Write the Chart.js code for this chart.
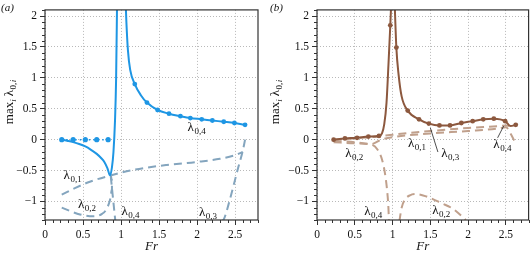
<!DOCTYPE html>
<html>
<head>
<meta charset="utf-8">
<script src="https://cdn.jsdelivr.net/npm/chart.js@4"></script>
<style>
html,body{margin:0;padding:0;background:#fff;}
#wrap{position:relative;width:531px;height:254px;overflow:hidden;}
.pan{position:absolute;top:0;height:254px;}
#pa{left:0;width:265px;}
#pb{left:265px;width:266px;}
</style>
</head>
<body>
<div id="wrap">
  <div class="pan" id="pa"><canvas id="ca"></canvas></div>
  <div class="pan" id="pb"><canvas id="cb"></canvas></div>
</div>
<script>
// ---------- axis ticks ----------
const xTicks = [0, 0.5, 1, 1.5, 2, 2.5];
const yTicks = [-1, -0.5, 0, 0.5, 1, 1.5, 2];
const xRange = [0, 2.8];
const yRange = [-1.3, 2.1];

// ---------- panel (a) ----------
// blue markers on the zero line
const aZeroFr  = [0.22, 0.37, 0.53, 0.68, 0.83];
const aZeroVal = [0, 0, 0, 0, 0];
// blue solid, left branch
const aLeftFr  = [0.22, 0.30, 0.37, 0.45, 0.53, 0.60, 0.68, 0.74, 0.78, 0.82, 0.855, 0.88, 0.90, 0.92, 0.935, 0.948];
const aLeftVal = [0, -0.02, -0.04, -0.07, -0.11, -0.16, -0.23, -0.30, -0.36, -0.46, -0.58, -0.45, -0.20, 0.30, 1.00, 2.30];
// blue solid, right branch (curve)
const aRightFr  = [1.058, 1.07, 1.09, 1.12, 1.18, 1.26, 1.34, 1.48, 1.63, 1.78, 1.91, 2.06, 2.20, 2.35, 2.49, 2.63];
const aRightVal = [2.30, 1.90, 1.45, 1.13, 0.90, 0.72, 0.60, 0.48, 0.42, 0.38, 0.35, 0.33, 0.31, 0.29, 0.27, 0.24];
// blue markers on right branch
const aMarkFr  = [1.18, 1.34, 1.48, 1.63, 1.78, 1.91, 2.06, 2.20, 2.35, 2.49, 2.63];
const aMarkVal = [0.90, 0.60, 0.48, 0.42, 0.38, 0.35, 0.33, 0.31, 0.29, 0.27, 0.24];
// dashed lambda_{0,1}
const aL1Fr  = [0.22, 0.40, 0.59, 0.86, 1.16, 1.60, 2.00, 2.30, 2.50, 2.60];
const aL1Val = [-0.89, -0.78, -0.68, -0.58, -0.49, -0.41, -0.36, -0.31, -0.25, -0.20];
// dashed lambda_{0,2}
const aL2Fr  = [0.22, 0.34, 0.46, 0.63, 0.75, 0.81, 0.86, 0.88, 0.88, 0.865];
const aL2Val = [-1.10, -1.16, -1.21, -1.24, -1.20, -1.12, -0.95, -0.80, -0.66, -0.58];
// dashed lambda_{0,4}
const aL4Fr  = [0.865, 0.89, 0.925];
const aL4Val = [-0.60, -0.90, -1.32];
// dashed lambda_{0,3}
const aL3Fr  = [2.32, 2.35, 2.43, 2.54, 2.60, 2.63];
const aL3Val = [-1.32, -1.29, -0.97, -0.45, -0.18, 0.0];

// ---------- panel (b) ----------
const bLeftFr  = [0.22, 0.37, 0.53, 0.68, 0.82, 0.86, 0.89, 0.92, 0.945, 0.97, 0.985];
const bLeftVal = [0.0, 0.02, 0.03, 0.05, 0.06, 0.10, 0.25, 0.60, 1.20, 1.85, 2.30];
const bRightFr  = [1.025, 1.05, 1.08, 1.12, 1.20, 1.35, 1.48, 1.62, 1.76, 1.91, 2.06, 2.20, 2.34, 2.49, 2.56, 2.63];
const bRightVal = [2.30, 1.49, 1.05, 0.70, 0.47, 0.33, 0.26, 0.23, 0.23, 0.27, 0.30, 0.33, 0.34, 0.30, 0.22, 0.24];
const bMarkFr  = [0.22, 0.37, 0.53, 0.68, 0.82, 0.97, 1.05, 1.20, 1.35, 1.48, 1.62, 1.76, 1.91, 2.06, 2.20, 2.34, 2.49, 2.63];
const bMarkVal = [0.0, 0.02, 0.03, 0.05, 0.06, 1.85, 1.49, 0.47, 0.33, 0.26, 0.23, 0.23, 0.27, 0.30, 0.33, 0.34, 0.30, 0.24];
// dashed branches
const bD1Fr  = [0.22, 0.40, 0.60, 0.80, 1.00, 1.50, 2.00, 2.40, 2.50, 2.55];
const bD1Val = [0.0, 0.01, 0.03, 0.05, 0.08, 0.14, 0.19, 0.22, 0.23, 0.22];
const bD2Fr  = [0.22, 0.50, 0.72, 0.85, 1.00, 1.50, 2.00, 2.40, 2.50, 2.57, 2.62];
const bD2Val = [-0.02, -0.04, -0.07, 0.0, 0.04, 0.10, 0.14, 0.18, 0.20, 0.08, -0.04];
const bD3Fr  = [0.22, 0.50, 0.72, 0.80, 0.86, 0.90, 0.93, 0.945, 0.952];
const bD3Val = [-0.04, -0.06, -0.08, -0.16, -0.32, -0.55, -0.85, -1.10, -1.32];
const bD4Fr  = [1.09, 1.12, 1.17, 1.23, 1.31, 1.45, 1.65, 1.80, 1.97];
const bD4Val = [-1.32, -1.10, -0.96, -0.90, -0.88, -0.92, -1.03, -1.12, -1.30];

// ---------- annotation labels ----------
const aLabels = [
  {sub:'0,4', x:1.99, y:0.19},
  {sub:'0,1', x:0.36, y:-0.58},
  {sub:'0,2', x:0.55, y:-1.05},
  {sub:'0,4', x:1.12, y:-1.17},
  {sub:'0,3', x:2.14, y:-1.18}
];
const bLabels = [
  {sub:'0,2', x:0.49, y:-0.23},
  {sub:'0,1', x:1.32, y:-0.07},
  {sub:'0,3', x:1.76, y:-0.23},
  {sub:'0,4', x:2.45, y:-0.08},
  {sub:'0,4', x:0.74, y:-1.17},
  {sub:'0,2', x:1.64, y:-1.16}
];
const bLeaders = [
  {x1:1.50, y1:0.19, x2:1.60, y2:-0.20},
  {x1:2.39, y1:0.03, x2:2.47, y2:0.22}
];

const pts = (xs, ys) => xs.map((x, i) => ({x: x, y: ys[i]}));

const SERIF = '"Liberation Serif", "DejaVu Serif", serif';
const BLUE = 'rgb(30,150,228)';
const BLUE_D = 'rgb(132,165,190)';
const BROWN = 'rgb(140,88,62)';
const BROWN_D = 'rgb(192,160,140)';
const DASH = [8, 5];

function fmt(v) {
  let s = String(v);
  return s.replace('-', '\u2212');
}

function drawLambda(ctx, px, py, sub) {
  ctx.save();
  ctx.fillStyle = '#111';
  ctx.textBaseline = 'alphabetic';
  ctx.font = '13px ' + SERIF;
  const w1 = ctx.measureText('\u03bb').width;
  ctx.font = '9px ' + SERIF;
  const w2 = ctx.measureText(sub).width;
  const x0 = px - (w1 + w2) / 2;
  ctx.font = '13px ' + SERIF;
  ctx.fillText('\u03bb', x0, py + 3);
  ctx.font = '9px ' + SERIF;
  ctx.fillText(sub, x0 + w1 + 0.5, py + 6);
  ctx.restore();
}

function makeDecor(cfg) {
  return {
    id: 'decor',
    afterDatasetsDraw(chart) {
      const ctx = chart.ctx;
      const xs = chart.scales.x, ys = chart.scales.y;
      const a = chart.chartArea;
      // labels
      cfg.labels.forEach(l => drawLambda(ctx, xs.getPixelForValue(l.x), ys.getPixelForValue(l.y), l.sub));
      // leader lines
      ctx.save();
      ctx.strokeStyle = '#222';
      ctx.lineWidth = 0.8;
      (cfg.leaders || []).forEach(l => {
        ctx.beginPath();
        ctx.moveTo(xs.getPixelForValue(l.x1), ys.getPixelForValue(l.y1));
        ctx.lineTo(xs.getPixelForValue(l.x2), ys.getPixelForValue(l.y2));
        ctx.stroke();
      });
      ctx.restore();
      // frame
      ctx.save();
      ctx.strokeStyle = '#333';
      ctx.lineWidth = 1.2;
      ctx.strokeRect(a.left, a.top, a.right - a.left, a.bottom - a.top);
      // minor ticks
      ctx.lineWidth = 1;
      ctx.beginPath();
      for (let k = 0; k <= 28; k++) {
        const v = k / 10;
        if (k % 5 === 0) continue;
        const p = Math.round(xs.getPixelForValue(v)) + 0.5;
        ctx.moveTo(p, a.bottom); ctx.lineTo(p, a.bottom + 3);
      }
      for (let k = -13; k <= 21; k++) {
        const v = k / 10;
        if (k % 5 === 0) continue;
        const p = Math.round(ys.getPixelForValue(v)) + 0.5;
        ctx.moveTo(a.left, p); ctx.lineTo(a.left - 3, p);
      }
      ctx.stroke();
      ctx.restore();
      // axis titles
      ctx.save();
      ctx.fillStyle = '#111';
      ctx.textAlign = 'center';
      ctx.textBaseline = 'middle';
      ctx.font = 'italic 13px ' + SERIF;
      ctx.fillText('Fr', (a.left + a.right) / 2, 247);
      // panel tag
      ctx.font = 'italic 11px ' + SERIF;
      ctx.textAlign = 'left';
      ctx.fillText('(', cfg.tagX, 8);
      const wp = ctx.measureText('(').width;
      ctx.fillText(cfg.tag, cfg.tagX + wp, 8);
      const wt = ctx.measureText(cfg.tag).width;
      ctx.fillText(')', cfg.tagX + wp + wt, 8);
      // y title: max_i lambda_{0,i}
      ctx.translate(cfg.yTitleX, 102);
      ctx.rotate(-Math.PI / 2);
      ctx.textBaseline = 'alphabetic';
      ctx.textAlign = 'left';
      const parts = [
        {t: 'max', f: '13px ' + SERIF, dy: 0, gap: 0},
        {t: 'i', f: 'italic 9px ' + SERIF, dy: 3, gap: 3},
        {t: '\u03bb', f: '13px ' + SERIF, dy: 0, gap: 0.5},
        {t: '0,', f: '9px ' + SERIF, dy: 3, gap: 0.5},
        {t: 'i', f: 'italic 9px ' + SERIF, dy: 3, gap: 0}
      ];
      let tot = 0;
      parts.forEach(p => { ctx.font = p.f; p.w = ctx.measureText(p.t).width; tot += p.w + p.gap; });
      let cx = -tot / 2;
      parts.forEach(p => { ctx.font = p.f; ctx.fillText(p.t, cx, 4 + p.dy); cx += p.w + p.gap; });
      ctx.restore();
    }
  };
}

function scalesCfg(yWidth) {
  const tickFont = {family: SERIF, size: 11.5};
  return {
    x: {
      type: 'linear', min: xRange[0], max: xRange[1],
      afterBuildTicks: s => { s.ticks = xTicks.map(v => ({value: v})); },
      afterFit: s => { s.height = 34; },
      ticks: {font: tickFont, color: '#111', padding: 3, maxRotation: 0, callback: v => fmt(v)},
      grid: {color: 'rgb(185,185,185)', lineWidth: 1, tickColor: '#333', tickLength: 5, tickWidth: 1},
      border: {display: false, dash: [1, 2]}
    },
    y: {
      type: 'linear', min: yRange[0], max: yRange[1],
      afterBuildTicks: s => { s.ticks = yTicks.map(v => ({value: v})); },
      afterFit: s => { s.width = yWidth; },
      ticks: {font: tickFont, color: '#111', padding: 3, callback: v => fmt(v)},
      grid: {color: 'rgb(185,185,185)', lineWidth: 1, tickColor: '#333', tickLength: 5, tickWidth: 1},
      border: {display: false, dash: [1, 2]}
    }
  };
}

function lineDs(data, color, width, dash) {
  return {data: data, showLine: true, borderColor: color, backgroundColor: color, borderWidth: width,
          borderDash: dash || [], pointRadius: 0, pointHoverRadius: 0, tension: 0.35, cubicInterpolationMode: 'monotone'};
}
function markDs(data, color, r) {
  return {data: data, showLine: false, borderColor: color, backgroundColor: color, pointRadius: r, pointBorderWidth: 0, pointHoverRadius: 0};
}

Chart.defaults.animation = false;
Chart.defaults.responsive = true;
Chart.defaults.maintainAspectRatio = false;
Chart.defaults.plugins.legend.display = false;
Chart.defaults.plugins.tooltip.enabled = false;

const zeroLine = lineDs(pts(aZeroFr, aZeroVal), BLUE, 1.5, [1.5, 3]);
zeroLine.tension = 0;

new Chart(document.getElementById('ca'), {
  type: 'scatter',
  data: {datasets: [
    markDs(pts(aZeroFr, aZeroVal), BLUE, 2.6),
    zeroLine,
    markDs(pts(aMarkFr, aMarkVal), BLUE, 2.4),
    lineDs(pts(aRightFr, aRightVal), BLUE, 2),
    Object.assign(lineDs(pts(aLeftFr, aLeftVal), BLUE, 2), {tension: 0.2}),
    Object.assign(lineDs(pts(aL1Fr, aL1Val), BLUE_D, 2, DASH), {tension: 0.3}),
    Object.assign(lineDs(pts(aL2Fr, aL2Val), BLUE_D, 2, DASH), {tension: 0.3}),
    Object.assign(lineDs(pts(aL4Fr, aL4Val), BLUE_D, 2, DASH), {tension: 0}),
    Object.assign(lineDs(pts(aL3Fr, aL3Val), BLUE_D, 2, DASH), {tension: 0.3})
  ]},
  options: {
    layout: {padding: {top: 4, right: 7, left: 0, bottom: 0}},
    scales: scalesCfg(45),
    plugins: {}
  },
  plugins: [makeDecor({labels: aLabels, leaders: [], tag: 'a', tagX: 1, yTitleX: 9})]
});

new Chart(document.getElementById('cb'), {
  type: 'scatter',
  data: {datasets: [
    markDs(pts(bMarkFr, bMarkVal), BROWN, 2.4),
    Object.assign(lineDs(pts(bLeftFr, bLeftVal), BROWN, 2), {tension: 0.25}),
    Object.assign(lineDs(pts(bRightFr, bRightVal), BROWN, 2), {tension: 0.3}),
    Object.assign(lineDs(pts(bD1Fr, bD1Val), BROWN_D, 2, DASH), {tension: 0.2}),
    Object.assign(lineDs(pts(bD2Fr, bD2Val), BROWN_D, 2, DASH), {tension: 0.2}),
    Object.assign(lineDs(pts(bD3Fr, bD3Val), BROWN_D, 2, DASH), {tension: 0.3}),
    Object.assign(lineDs(pts(bD4Fr, bD4Val), BROWN_D, 2, DASH), {tension: 0.3})
  ]},
  options: {
    layout: {padding: {top: 4, right: 1, left: 0, bottom: 0}},
    scales: scalesCfg(52),
    plugins: {}
  },
  plugins: [makeDecor({labels: bLabels, leaders: bLeaders, tag: 'b', tagX: 5, yTitleX: 10})]
});
</script>
</body>
</html>
